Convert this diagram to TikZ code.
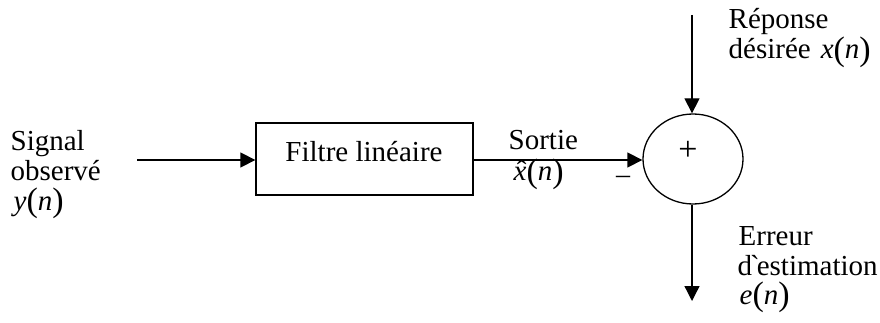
\documentclass[tikz,border=0pt]{standalone}
\usepackage{fontspec}
\setmainfont{Liberation Serif}[Ligatures=TeXOff]
\usetikzlibrary{arrows.meta,shapes.geometric}
\newcommand{\bp}[1]{{\fontsize{34}{34}\selectfont\raisebox{-1.5pt}{(}}\textit{#1}{\fontsize{34}{34}\selectfont\raisebox{-1.5pt}{)}}}
\newcommand{\xhat}{\textit{x}\hspace{-0.444em}\makebox[0.444em][c]{\hspace{3pt}ˆ}}
\begin{document}
\begin{tikzpicture}[x=1pt,y=-1pt,
  line width=1.3pt,
  arr/.style={-{Triangle[length=15pt,width=15pt]}},
  lbl/.style={font=\fontsize{29}{30}\selectfont, inner sep=0pt, anchor=base west},
  blk/.style={draw, minimum width=217pt, minimum height=72pt, inner sep=0pt},
  sumnode/.style={draw, ellipse, minimum width=100pt, minimum height=90pt, inner sep=0pt}]
\useasboundingbox (0,0) rectangle (880,323);
\node[blk] (filt) at (364.5,159) {};
\node[lbl, anchor=base] (filttxt) at (364,162) {Filtre linéaire};
\node[sumnode] (sum) at (693,159) {};
\node[lbl, anchor=base, font=\fontsize{34}{34}\selectfont] (plus) at (688,160.5) {+};
\coordinate (in) at (137,160);
\coordinate (top) at (692,15);
\coordinate (out) at (692,301);
\draw[arr] (in) -- (filt.west |- in);
\draw[arr] (filt.east |- in) -- (sum.west |- in);
\draw[arr] (top) -- (sum.north -| top);
\draw[arr] (sum.south -| out) -- (out);
% left labels
\node[lbl] (sig1) at (10,151) {Signal};
\node[lbl] (sig2) at (10,181) {observé};
\node[lbl] (sig3) at (13,210) {\textit{y}\bp{n}};
% output labels
\node[lbl] (sort1) at (508,150) {Sortie};
\node[lbl] (sort2) at (513,181) {\xhat\bp{n}};
\node[lbl, anchor=base, font=\fontsize{28}{28}\selectfont] (minus) at (623,184) {–};
% desired response
\node[lbl] (rep1) at (728,29) {Réponse};
\node[lbl] (rep2) at (728,59) {désirée\hspace{10pt}\textit{x}\bp{n}};
% error
\node[lbl] (err1) at (738,245) {Erreur};
\node[lbl] (err2) at (737,275) {d\hspace{-2pt}`\hspace{-3pt}estimation};
\node[lbl] (err3) at (739,304) {\textit{e}\bp{n}};
\end{tikzpicture}
\end{document}
